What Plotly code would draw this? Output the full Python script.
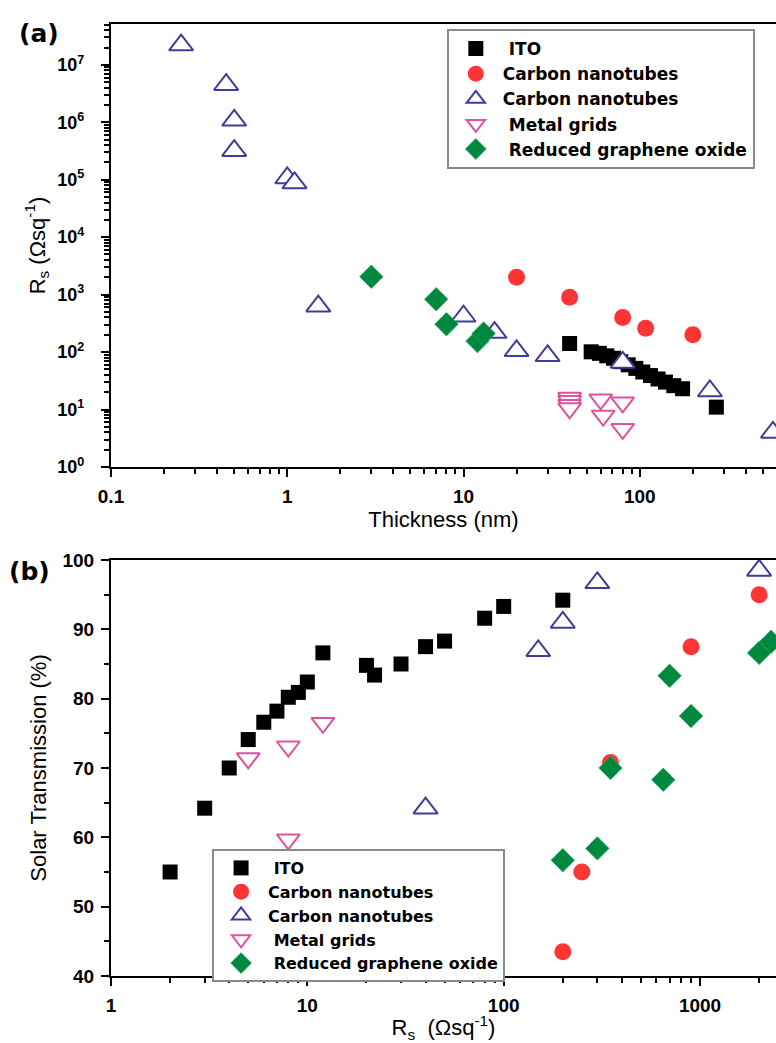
import plotly.graph_objects as go

# ---------------- data: panel (a) thickness vs sheet resistance ----------------
ito_a_x = [40, 53, 59, 65, 71, 78, 86, 95, 104, 115, 127, 140, 156, 175, 272]
ito_a_y = [141, 101, 95, 86, 78, 68, 60, 52, 45, 39, 34, 30, 26, 23, 11]

cnt1_a_x = [20, 40, 80, 108, 200]
cnt1_a_y = [2000, 900, 400, 260, 200]

cnt2_a_x = [0.25, 0.45, 0.5, 0.5, 1.0, 1.1, 1.5, 10, 15, 20, 30, 80, 250, 570]
cnt2_a_y = [2.2e7, 4.5e6, 1.08e6, 3.2e5, 1.07e5, 8.8e4, 630, 420, 218, 105, 86, 66, 21, 4.0]

metal_a_x = [40, 40, 40, 40, 60, 62, 80, 80]
metal_a_y = [16, 14, 12, 10.5, 15, 7.8, 13.3, 4.6]

rgo_a_x = [3, 7, 8, 12, 13]
rgo_a_y = [2050, 830, 305, 155, 210]

# ---------------- data: panel (b) sheet resistance vs transmission ----------------
ito_b_x = [2, 3, 4, 5, 6, 7, 8, 9, 10, 12, 20, 22, 30, 40, 50, 80, 100, 200]
ito_b_y = [55, 64.2, 70, 74.1, 76.6, 78.2, 80.2, 80.9, 82.4, 86.6, 84.8, 83.4, 85, 87.5, 88.3, 91.6, 93.3, 94.2]

cnt1_b_x = [200, 250, 350, 900, 2000]
cnt1_b_y = [43.5, 55, 70.8, 87.5, 95]

cnt2_b_x = [40, 150, 200, 300, 2000]
cnt2_b_y = [64.2, 86.9, 91, 96.7, 98.5]

metal_b_x = [5, 8, 8, 12]
metal_b_y = [71.4, 73.1, 59.7, 76.5]

rgo_b_x = [200, 300, 350, 650, 700, 900, 2000, 2300]
rgo_b_y = [56.7, 58.4, 70, 68.3, 83.3, 77.5, 86.6, 88.2]

names = ["\u00a0ITO", "Carbon nanotubes", "Carbon nanotubes", "\u00a0Metal grids", "\u00a0Reduced graphene oxide"]

# tick labels
a_x_ticks = [0.1, 1, 10, 100]
a_x_labels = ["0.1", "1", "10", "100"]
a_y_exps = [0, 1, 2, 3, 4, 5, 6, 7]
b_x_ticks = [1, 10, 100, 1000]
b_x_labels = ["1", "10", "100", "1000"]
b_y_ticks = [40, 50, 60, 70, 80, 90, 100]
b_y_minor = [45, 55, 65, 75, 85, 95]

BLACK = "#000000"
RED = "#FF3535"
BLUE = "#3D3D9C"
PINK = "#DE529E"
GREEN = "#00893E"

styles = [
    dict(symbol="square", size=15, color=BLACK, line=dict(width=0, color=BLACK)),
    dict(symbol="circle", size=17, color=RED, line=dict(width=0, color=RED)),
    dict(symbol="triangle-up", size=21, color="white", line=dict(width=2, color=BLUE)),
    dict(symbol="triangle-down", size=20, color="white", line=dict(width=2, color=PINK)),
    dict(symbol="diamond", size=18, color=GREEN, line=dict(width=0.8, color="#1FA65A")),
]

panel_a = [(ito_a_x, ito_a_y), (cnt1_a_x, cnt1_a_y), (cnt2_a_x, cnt2_a_y),
           (metal_a_x, metal_a_y), (rgo_a_x, rgo_a_y)]
panel_b = [(ito_b_x, ito_b_y), (cnt1_b_x, cnt1_b_y), (cnt2_b_x, cnt2_b_y),
           (metal_b_x, metal_b_y), (rgo_b_x, rgo_b_y)]

fig = go.Figure()
for (xs, ys), nm, st in zip(panel_a, names, styles):
    fig.add_trace(go.Scatter(x=xs, y=ys, mode="markers", name=nm, marker=st,
                             xaxis="x", yaxis="y", legend="legend", cliponaxis=False))
for (xs, ys), nm, st in zip(panel_b, names, styles):
    fig.add_trace(go.Scatter(x=xs, y=ys, mode="markers", name=nm, marker=st,
                             xaxis="x2", yaxis="y2", legend="legend2", cliponaxis=False))


def log_minor(lo, hi):
    vals = []
    for e in range(lo, hi + 1):
        for m in range(2, 10):
            vals.append(m * 10.0 ** e)
    return vals


TICKFONT = dict(family="Liberation Sans, Arial", size=19, color="black", weight="bold")
TITLEFONT = dict(family="Liberation Sans, Arial", size=22, color="black")
LEGFONT_A = dict(family="DejaVu Sans", size=17, color="black", weight="bold")
LEGFONT_B = dict(family="DejaVu Sans", size=16, color="black", weight="bold")

common = dict(showline=True, linecolor="black", linewidth=2.2, ticks="outside",
              ticklen=8, tickwidth=2.4, tickcolor="black", showgrid=False,
              zeroline=False, tickfont=TICKFONT)


def minor(vals):
    return dict(ticks="outside", ticklen=5, tickwidth=2, tickcolor="black",
                showgrid=False, tickmode="array", tickvals=vals)


A_X_RANGE = [-1, 2.773]
A_Y_RANGE = [0, 7.71]
B_X_RANGE = [0, 3.387]
B_Y_RANGE = [40, 100]

fig.update_layout(
    width=776, height=1043,
    margin=dict(l=111, r=0, t=24, b=67),
    paper_bgcolor="white", plot_bgcolor="white",
    showlegend=True,
    xaxis=dict(common, domain=[0, 1], anchor="y", type="log", range=A_X_RANGE,
               mirror=True,
               tickmode="array", tickvals=a_x_ticks, ticktext=a_x_labels,
               minor=minor(log_minor(-1, 2)),
               ticklabelstandoff=3,
               title=dict(text="Thickness (nm)", font=TITLEFONT, standoff=6)),
    yaxis=dict(common, domain=[0.5347, 1], anchor="x", type="log", range=A_Y_RANGE,
               tickmode="array", tickvals=[10 ** e for e in a_y_exps],
               ticktext=["10<sup>%d</sup>" % e for e in a_y_exps],
               minor=minor(log_minor(0, 7)),
               tickfont=dict(TICKFONT, size=18),
               ticklabelstandoff=13,
               title=dict(text="R<sub>s</sub> (\u03a9sq<sup>-1</sup>)", font=TITLEFONT, standoff=6)),
    xaxis2=dict(common, domain=[0, 1], anchor="y2", type="log", range=B_X_RANGE,
                mirror=True,
                tickmode="array", tickvals=b_x_ticks, ticktext=b_x_labels,
                minor=minor(log_minor(0, 3)),
                ticklabelstandoff=3,
                title=dict(text="R<sub>s</sub>  (\u03a9sq<sup>-1</sup>)", font=TITLEFONT, standoff=8)),
    yaxis2=dict(common, domain=[0, 0.437], anchor="x2", range=B_Y_RANGE,
                tickmode="array", tickvals=b_y_ticks,
                minor=minor(b_y_minor),
                ticklabelstandoff=3,
                title=dict(text="Solar Transmission (%)", font=TITLEFONT, standoff=10)),
    legend=dict(x=0.505, y=0.9947, xanchor="left", yanchor="top",
                bgcolor="white", bordercolor="#8a8a8a", borderwidth=2,
                font=LEGFONT_A, itemwidth=44, tracegroupgap=0),
    legend2=dict(x=0.152, y=0.1334, xanchor="left", yanchor="top",
                 bgcolor="white", bordercolor="#8a8a8a", borderwidth=2,
                 font=LEGFONT_B, itemwidth=44, tracegroupgap=0),
    annotations=[
        dict(text="<b>(a)</b>", x=-0.108, y=0.9905, xref="paper", yref="paper",
             xanchor="center", yanchor="middle", showarrow=False,
             font=dict(family="DejaVu Sans", size=25, color="black")),
        dict(text="<b>(b)</b>", x=-0.122, y=0.4244, xref="paper", yref="paper",
             xanchor="center", yanchor="middle", showarrow=False,
             font=dict(family="DejaVu Sans", size=25, color="black")),
    ],
)

fig.write_html("out.html")
